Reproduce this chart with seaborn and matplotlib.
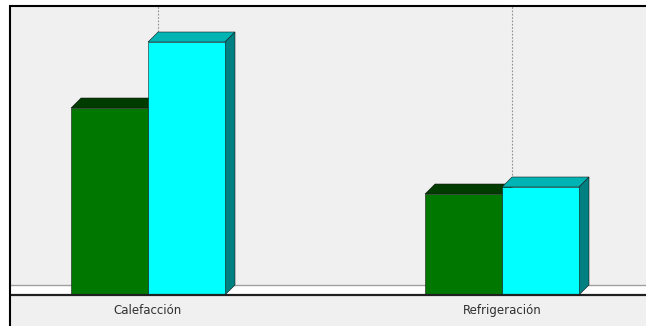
import numpy as np
import pandas as pd
import seaborn as sns
import matplotlib
matplotlib.use("Agg")
import matplotlib.pyplot as plt
from matplotlib.patches import Polygon, Rectangle

categories = ["Calefacción", "Refrigeración"]
series_names = ["Serie 1", "Serie 2"]
serie1 = [18.7, 10.1]
serie2 = [25.3, 10.8]

front_colors = ["#007800", "#00ffff"]
top_colors = ["#003c00", "#00b4b4"]
side_colors = ["#004800", "#008080"]

df = pd.DataFrame({
    "cat": categories * 2,
    "serie": [series_names[0]] * len(categories) + [series_names[1]] * len(categories),
    "val": serie1 + serie2,
})

sns.set_style("white")
W, H = 646, 326
fig = plt.figure(figsize=(W / 100, H / 100), dpi=100, facecolor="white")
ax = fig.add_axes([10 / W, 0, 636 / W, 320 / H])
ax.set_facecolor("#f0f0f0")

sns.barplot(data=df, x="cat", y="val", hue="serie", palette=front_colors,
            width=0.435, dodge=True, legend=False, ax=ax, saturation=1,
            edgecolor="#1a1a1a", linewidth=0.4, zorder=3)
bars = sorted([p for p in ax.patches if p.get_height() > 0], key=lambda p: p.get_x())

px_per_unit_x = 354.0
ax.set_xlim((10 - 148) / px_per_unit_x, (646 - 148) / px_per_unit_x)
ax.set_ylim(-3.1, 28.9)
dx = 10 / px_per_unit_x
dy = 1.0

# floor strip and lines
ax.axhspan(0, dy, color="white", zorder=1)
ax.axhline(dy, color="#a0a0a0", lw=1.0, zorder=1.5)
ax.axhline(0, color="#202020", lw=1.6, zorder=10)

# dotted category lines at back plane
for i in range(len(categories)):
    ax.vlines(i + dx, dy, 28.9, colors="#909090", linestyles=(0, (1.5, 1.5)), lw=0.8, zorder=2)

# 3D decorations
for k, p in enumerate(bars):
    x0, w, h = p.get_x(), p.get_width(), p.get_height()
    x1 = x0 + w
    fc = matplotlib.colors.to_hex(p.get_facecolor())
    idx = 0 if fc.lower() == front_colors[0] else 1
    z = 3 + k * 0.1
    p.set_zorder(z + 0.02)
    top = Polygon([(x0, h), (x0 + dx, h + dy), (x1 + dx, h + dy), (x1, h)], closed=True,
                  facecolor=top_colors[idx], edgecolor="#1a1a1a", lw=0.4, zorder=z)
    side = Polygon([(x1, 0), (x1 + dx, dy), (x1 + dx, h + dy), (x1, h)], closed=True,
                   facecolor=side_colors[idx], edgecolor="#1a1a1a", lw=0.4, zorder=z)
    ax.add_patch(top)
    ax.add_patch(side)

for s in ax.spines.values():
    s.set_visible(False)
ax.set_yticks([])
ax.set_xlabel("")
ax.set_ylabel("")
ax.set_xticks(range(len(categories)))
ax.set_xticklabels(categories, fontsize=8.5, color="#303030")
ax.tick_params(axis="x", length=0, pad=-16)

fig.patches.append(Rectangle((9.5 / W, -0.1), 2, 320 / H + 0.1, fill=False,
                             ec="black", lw=1.5, transform=fig.transFigure))

fig.savefig("out.png", dpi=100, facecolor="white")
